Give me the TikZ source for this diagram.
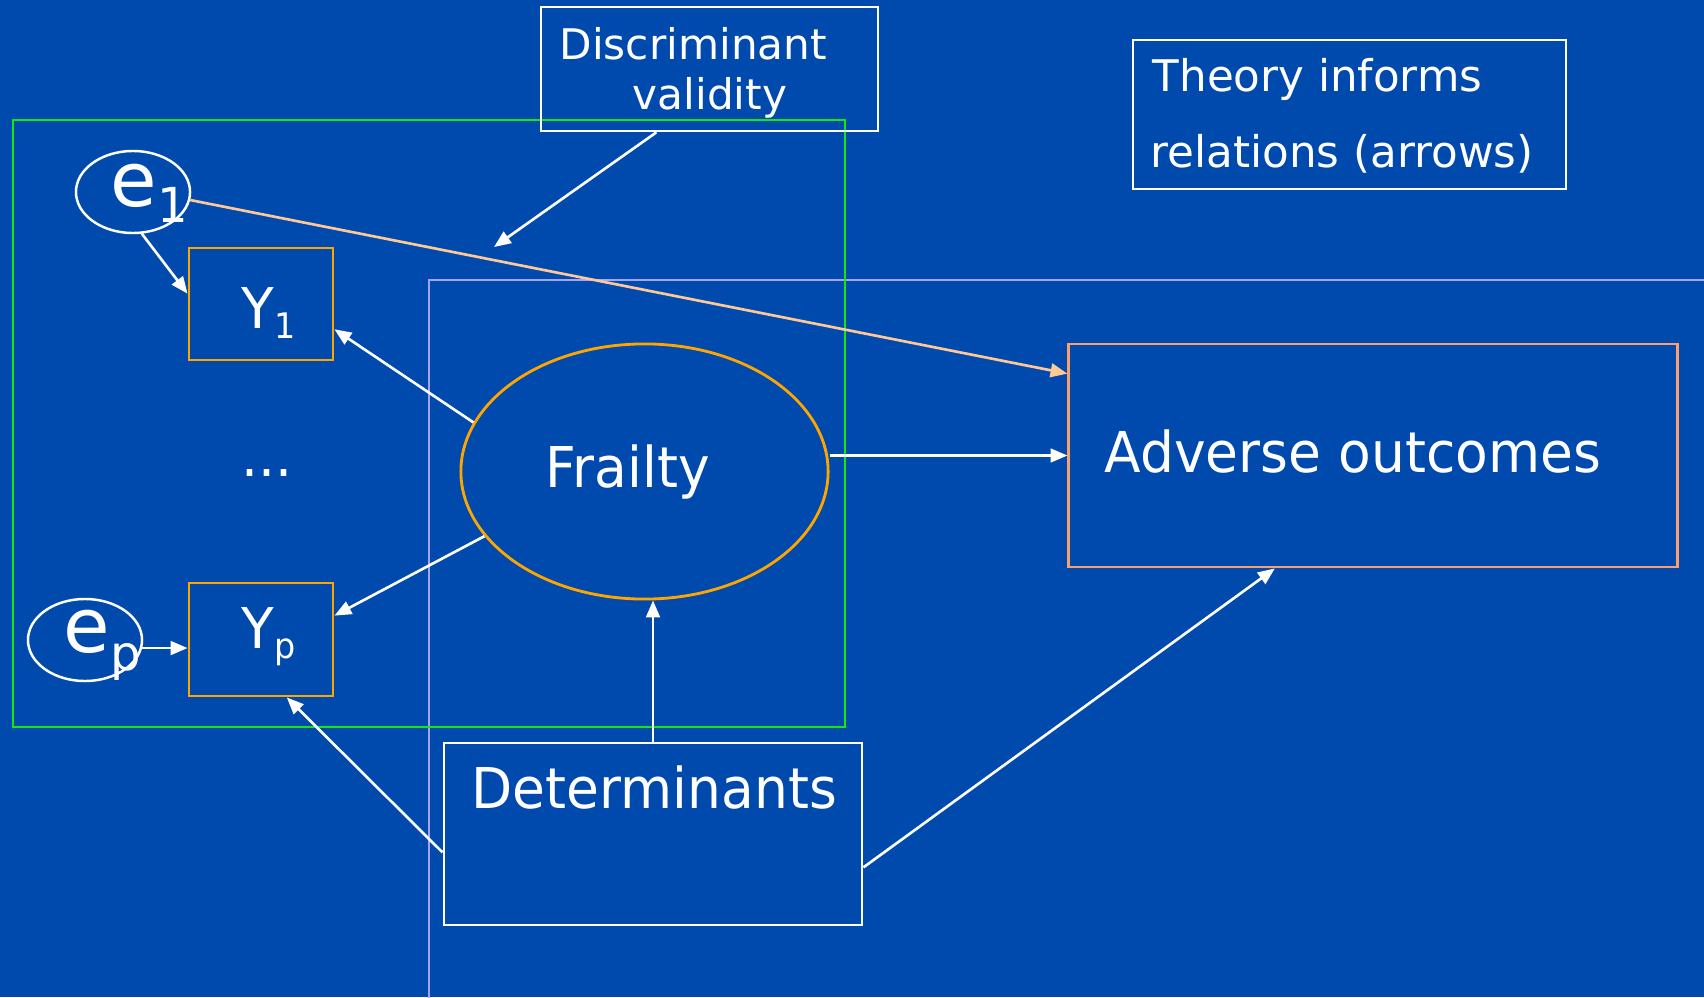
\documentclass[tikz,border=0pt]{standalone}
\usepackage{fontspec}
\setmainfont{DejaVu Sans}
\newfontfamily\narrowfam{DejaVu Sans}[FakeStretch=0.95]
\usetikzlibrary{arrows.meta,shapes.geometric}

\definecolor{bgblue}{RGB}{0,74,173}
\definecolor{framegreen}{RGB}{20,230,20}
\definecolor{boxorange}{RGB}{255,165,0}
\definecolor{advorange}{RGB}{250,160,110}
\definecolor{peach}{RGB}{255,200,150}
\definecolor{lavender}{RGB}{165,165,255}

\newcommand{\fsz}[1]{\fontsize{#1}{1.2\dimexpr#1\relax}\selectfont}
\newcommand{\lowsub}[3]{\raisebox{-#1}{\fsz{#2}#3}}

\begin{document}
\begin{tikzpicture}
			[x=0.01cm,y=-0.01cm,
			 every node/.style={inner sep=0pt,text=white},
			 whitebox/.style={draw=white,line width=0.75pt,rectangle},
			 ybox/.style={draw=boxorange,line width=0.8pt,rectangle,minimum width=1.44cm,minimum height=1.12cm},
			 errell/.style={draw=white,line width=0.7pt,ellipse,minimum width=1.14cm,minimum height=0.82cm},
			 txt/.style={anchor=base west,font=\narrowfam\fsz{16pt}},
			 smalltxt/.style={anchor=base west,font=\fsz{12pt}},
			 conn/.style={draw=white,line width=0.75pt,-{Triangle[length=4.8pt,width=3.9pt]}}]
			\useasboundingbox (0,0) rectangle (1704,997);
			\fill[bgblue] (0,0) rectangle (1704,997);

			% frames
			\draw[lavender,line width=0.7pt] (429,1000) |- (1710,280);
			\draw[framegreen,line width=0.75pt] (13,120) rectangle (845,727);

			% boxes
			\node[whitebox,minimum width=3.37cm,minimum height=1.24cm] (disc) at (709.5,69) {};
			\node[smalltxt] (disc1) at (559,60) {Discriminant};
			\node[smalltxt] (disc2) at (632,110) {validity};
			\node[whitebox,minimum width=4.33cm,minimum height=1.49cm] (theory) at (1349.5,114.5) {};
			\node[smalltxt,font=\fsz{12.4pt}] (theory1) at (1152,92) {Theory informs};
			\node[smalltxt,font=\fsz{12.4pt}] (theory2) at (1150,168) {relations (arrows)};

			\node[errell] (e1) at (133,192) {};
			\node[anchor=base west,font=\fsz{21.5pt}] (e1t) at (110,206) {e\lowsub{4.8pt}{13.7pt}{1}};
			\node[errell] (ep) at (85,640) {};
			\node[anchor=base west,font=\fsz{21.5pt}] (ept) at (63,652) {e\lowsub{5.4pt}{13.7pt}{p}};

			\node[ybox] (Y1) at (261,304) {};
			\node[txt] (Y1t) at (241,328) {Y\lowsub{3.1pt}{10pt}{1}};
			\node[ybox,minimum height=1.13cm] (Yp) at (261,639.5) {};
			\node[txt] (Ypt) at (241,648) {Y\lowsub{3pt}{10pt}{p}};
			\node[txt] (dots) at (241,476) {...};

			\node[draw=boxorange,line width=0.8pt,ellipse,minimum width=3.67cm,minimum height=2.55cm] (frailty) at (644.5,471.5) {};
			\node[txt] (frailtyt) at (545,487) {Frailty};

			\node[draw=advorange,line width=0.8pt,rectangle,minimum width=6.08cm,minimum height=2.23cm] (adv) at (1373,455.5) {};
			\node[txt] (advt) at (1104,472) {Adverse outcomes};

			\node[whitebox,minimum width=4.18cm,minimum height=1.82cm] (det) at (653,834) {};
			\node[txt] (dett) at (471,808) {Determinants};

			\coordinate (dvtip) at (494,247);

			% connectors
			\draw[conn,draw=peach] (e1.-8) -- (adv.165);
			\foreach \from/\to in {e1.-78/Y1.172,disc.230/dvtip,frailty.164/Y1.-19,frailty.202/Yp.18,ep.-8/Yp.west |- ep.-8,frailty.east |- adv.west/adv.west,det.north/det.north |- frailty.south,det.185.5/Yp.-66,det.-9.5/adv.229}
			\draw[conn] (\from) -- (\to);
			\end{tikzpicture}
\end{document}
